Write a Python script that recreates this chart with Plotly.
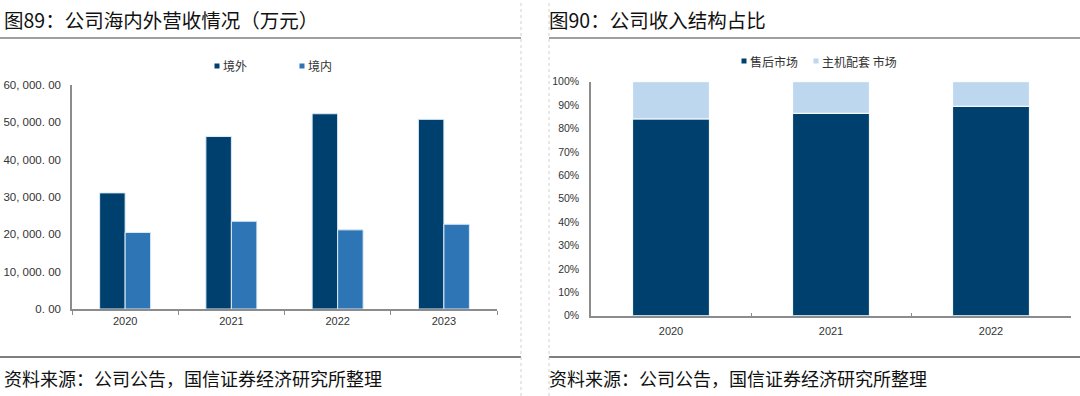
import plotly.graph_objects as go

# Left chart data (万元)
years_left = ["2020", "2021", "2022", "2023"]
overseas = [31100, 46200, 52300, 50800]
domestic = [20500, 23500, 21200, 22700]
left_names = ["境外", "境内"]
left_ticks = [0, 10000, 20000, 30000, 40000, 50000, 60000]
left_ticktext = ["0. 00", "10, 000. 00", "20, 000. 00", "30, 000. 00", "40, 000. 00", "50, 000. 00", "60, 000. 00"]

# Right chart data (share, %)
years_right = ["2020", "2021", "2022"]
aftermarket = [84.1, 86.5, 89.5]
oem = [15.9, 13.5, 10.5]
right_names = ["售后市场", "主机配套 市场"]
right_ticks = [0, 10, 20, 30, 40, 50, 60, 70, 80, 90, 100]
right_ticktext = [f"{v}%" for v in right_ticks]

W, H = 1080, 396
def px(x): return x / W
def py(y): return (H - y) / H

CJK = "Noto Sans CJK SC"
dark = "#00406F"
mid = "#2E75B6"
light = "#BDD7EE"
txt = "#333333"

fig = go.Figure()
fig.add_trace(go.Bar(x=years_left, y=overseas, name=left_names[0], offsetgroup="a",
                     marker=dict(color=dark, line=dict(color="#DDEBF7", width=1)), xaxis="x", yaxis="y"))
fig.add_trace(go.Bar(x=years_left, y=domestic, name=left_names[1], offsetgroup="b",
                     marker=dict(color=mid, line=dict(color="#DDEBF7", width=1)), xaxis="x", yaxis="y"))
fig.add_trace(go.Bar(x=years_right, y=aftermarket, name=right_names[0], offsetgroup="c",
                     marker=dict(color=dark, line=dict(color="white", width=1)), xaxis="x2", yaxis="y2"))
fig.add_trace(go.Bar(x=years_right, y=oem, name=right_names[1], offsetgroup="c", base=aftermarket,
                     marker=dict(color=light, line=dict(color="white", width=1)), xaxis="x2", yaxis="y2"))

axis_line = "#8C8C8C"
fig.update_layout(
    width=W, height=H, margin=dict(l=0, r=0, t=0, b=0, autoexpand=False),
    paper_bgcolor="white", plot_bgcolor="white", showlegend=False,
    barmode="group", bargap=0.52, bargroupgap=0,
    xaxis=dict(domain=[px(72), px(497)], anchor="y", type="category", showgrid=False, automargin=False,
               showline=True, linecolor=axis_line, linewidth=1.5, ticks="outside", tickson="boundaries",
               ticklen=4, tickcolor=axis_line, ticklabelstandoff=1,
               tickfont=dict(family="Liberation Sans", size=11, color=txt)),
    yaxis=dict(domain=[py(309), py(85)], anchor="x", range=[0, 60000], tickvals=left_ticks, ticktext=left_ticktext,
               showgrid=False, zeroline=False, showline=True, linecolor=axis_line, linewidth=1.5, automargin=False,
               ticks="", ticklabelstandoff=7, tickfont=dict(family="Liberation Sans", size=11.5, color=txt)),
    xaxis2=dict(domain=[px(591), px(1071)], anchor="y2", type="category", showgrid=False, automargin=False,
                showline=True, linecolor=axis_line, linewidth=1.5, ticks="inside", tickson="boundaries",
                ticklen=3, tickcolor=axis_line, ticklabelstandoff=4,
                tickfont=dict(family="Liberation Sans", size=11, color=txt)),
    yaxis2=dict(domain=[py(315.7), py(81.7)], anchor="x2", range=[0, 100], tickvals=right_ticks,
                ticktext=right_ticktext, showgrid=False, zeroline=False, showline=True, automargin=False,
                linecolor=axis_line, linewidth=1.5, ticks="", ticklabelstandoff=8,
                tickfont=dict(family="Liberation Sans", size=10.5, color=txt)),
)

# Titles
fig.add_annotation(x=px(2), y=py(20), xref="paper", yref="paper", text="图89：公司海内外营收情况（万元）",
                   showarrow=False, xanchor="left", yanchor="middle", font=dict(family=CJK, size=19.5, color="#111111"))
fig.add_annotation(x=px(547), y=py(20), xref="paper", yref="paper", text="图90：公司收入结构占比",
                   showarrow=False, xanchor="left", yanchor="middle", font=dict(family=CJK, size=19.5, color="#111111"))
# Footers
for x0 in (2, 547):
    fig.add_annotation(x=px(x0), y=py(378), xref="paper", yref="paper", text="资料来源：公司公告，国信证券经济研究所整理",
                       showarrow=False, xanchor="left", yanchor="middle", font=dict(family=CJK, size=18, color="#111111"))

# Legends (small square markers + labels)
shapes = []
legend_items = [(217, 66, dark, left_names[0]), (302, 66, mid, left_names[1]),
                (744, 61, dark, right_names[0]), (816, 61, light, right_names[1])]
for (lx, ly, col, name) in legend_items:
    shapes.append(dict(type="rect", xref="paper", yref="paper", x0=px(lx - 2.5), x1=px(lx + 2.5),
                       y0=py(ly + 2.5), y1=py(ly - 2.5), fillcolor=col, line=dict(width=0)))
    fig.add_annotation(x=px(lx + 4), y=py(ly), xref="paper", yref="paper", text=name, showarrow=False,
                       xanchor="left", yanchor="middle", font=dict(family=CJK, size=12, color=txt))

# Lines
for (a, b) in ((0, 521), (549, 1080)):
    shapes.append(dict(type="line", xref="paper", yref="paper", x0=px(a), x1=px(b), y0=py(38), y1=py(38),
                       line=dict(color="#A0A0A0", width=2)))
    shapes.append(dict(type="line", xref="paper", yref="paper", x0=px(a), x1=px(b), y0=py(357), y1=py(357),
                       line=dict(color="#555555", width=1.5)))
for xv in (521, 549):
    shapes.append(dict(type="line", xref="paper", yref="paper", x0=px(xv), x1=px(xv), y0=0, y1=1,
                       line=dict(color="#D0D0D0", width=1, dash="dot")))
fig.update_layout(shapes=shapes)

fig.write_html("out.html", config={"displayModeBar": False},
               post_script="document.body.style.margin='0';document.body.style.overflow='hidden';")
